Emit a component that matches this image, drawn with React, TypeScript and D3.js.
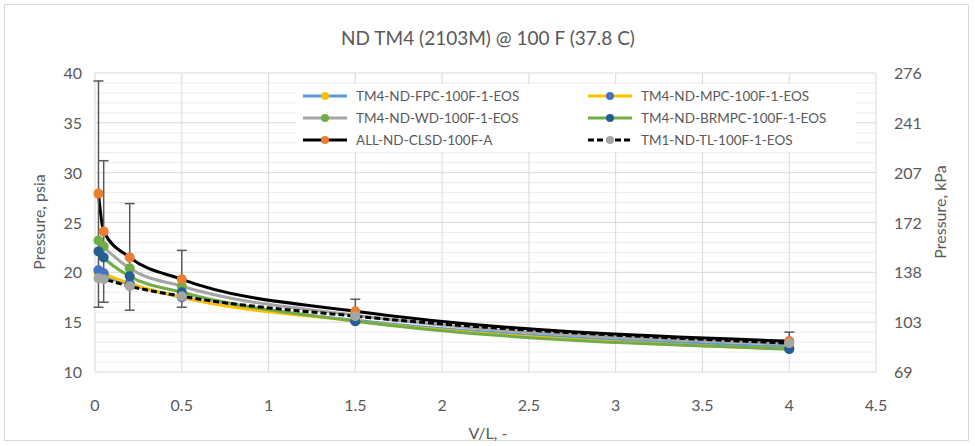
import React from "react";
import * as d3 from "d3";

const vl = [0.02, 0.05, 0.2, 0.5, 1.5, 4];
const fpc = [20.0, 19.7, 18.8, 17.5, 15.2, 12.5];
const mpc = [20.2, 19.9, 18.9, 17.5, 15.1, 12.3];
const wd = [23.2, 22.6, 20.4, 18.6, 15.7, 12.8];
const brmpc = [22.1, 21.5, 19.6, 18.0, 15.1, 12.3];
const clsd = [27.9, 24.1, 21.5, 19.3, 16.1, 13.1];
const tl = [19.4, 19.3, 18.6, 17.6, 15.6, 12.9];
const clsdHigh = [39.2, 31.2, 26.9, 22.2, 17.3, 14.0];
const clsdLow = [16.5, 17.0, 16.2, 16.5, 15.0, 12.3];

const xTicks = [0, 0.5, 1, 1.5, 2, 2.5, 3, 3.5, 4, 4.5];
const yTicks = [10, 15, 20, 25, 30, 35, 40];

const series = [
  { name: "TM4-ND-FPC-100F-1-EOS", values: fpc, line: "#5b9bd5", marker: "#ffc000", dash: null },
  { name: "TM4-ND-MPC-100F-1-EOS", values: mpc, line: "#ffc000", marker: "#4472c4", dash: null },
  { name: "TM4-ND-WD-100F-1-EOS", values: wd, line: "#a5a5a5", marker: "#70ad47", dash: null },
  { name: "TM4-ND-BRMPC-100F-1-EOS", values: brmpc, line: "#70ad47", marker: "#255e91", dash: null },
  { name: "ALL-ND-CLSD-100F-A", values: clsd, line: "#000000", marker: "#ed7d31", dash: null },
  { name: "TM1-ND-TL-100F-1-EOS", values: tl, line: "#000000", marker: "#a5a5a5", dash: "6,3" },
];

const W = 975;
const H = 446;
const font = "Lato, 'Open Sans', sans-serif";
const textColor = "#595959";

export default function App() {
  const x = d3.scaleLinear().domain([0, 4.5]).range([95, 876]);
  const y = d3.scaleLinear().domain([10, 40]).range([372, 73]);
  const minor = d3.range(10, 41, 1).filter((v) => v % 5 !== 0);

  const line = d3
    .line<number>()
    .x((d, i) => x(vl[i]))
    .y((d) => y(d))
    .curve(d3.curveMonotoneX);

  const legendRows = [96, 118, 140];
  const legendCols = [303, 588];

  return (
    <svg
      width={W}
      height={H}
      style={{ position: "absolute", left: 0, top: 0, background: "#fff" }}
      fontFamily={font}
    >
      <rect x={4.5} y={4.5} width={964} height={436} fill="#fff" stroke="#d9d9d9" />
      <text x={488} y={45} textAnchor="middle" fontSize={19} fill={textColor}>
        ND TM4 (2103M) @ 100 F (37.8 C)
      </text>

      {/* grid */}
      {minor.map((v) => (
        <line key={"m" + v} x1={x(0)} x2={x(4.5)} y1={y(v)} y2={y(v)} stroke="#ededed" />
      ))}
      {yTicks.map((v) => (
        <line key={"y" + v} x1={x(0)} x2={x(4.5)} y1={y(v)} y2={y(v)} stroke="#d9d9d9" />
      ))}
      {xTicks.map((v) => (
        <line key={"x" + v} x1={x(v)} x2={x(v)} y1={y(10)} y2={y(40)} stroke="#d9d9d9" />
      ))}

      {/* axis labels */}
      {yTicks.map((v) => (
        <text key={"yl" + v} x={82} y={y(v) + 6} textAnchor="end" fontSize={16} fill={textColor}>
          {v}
        </text>
      ))}
      {yTicks.map((v) => (
        <text key={"yr" + v} x={894} y={y(v) + 6} textAnchor="start" fontSize={16} fill={textColor}>
          {Math.round(v * 6.89476)}
        </text>
      ))}
      {xTicks.map((v) => (
        <text key={"xl" + v} x={x(v)} y={411} textAnchor="middle" fontSize={16} fill={textColor}>
          {v}
        </text>
      ))}
      <text x={488} y={439} textAnchor="middle" fontSize={16} fill={textColor}>
        V/L, -
      </text>
      <text transform="translate(45,222) rotate(-90)" textAnchor="middle" fontSize={16} fill={textColor}>
        Pressure, psia
      </text>
      <text transform="translate(946,212) rotate(-90)" textAnchor="middle" fontSize={16} fill={textColor}>
        Pressure, kPa
      </text>

      {/* lines */}
      {series.map((s) => (
        <path
          key={"p" + s.name}
          d={line(s.values) || ""}
          fill="none"
          stroke={s.line}
          strokeWidth={3}
          strokeDasharray={s.dash || undefined}
        />
      ))}

      {/* error bars */}
      {vl.map((v, i) => (
        <g key={"e" + i} stroke="#595959" strokeWidth={1.5}>
          <line x1={x(v)} x2={x(v)} y1={y(clsdHigh[i])} y2={y(clsdLow[i])} />
          <line x1={x(v) - 5} x2={x(v) + 5} y1={y(clsdHigh[i])} y2={y(clsdHigh[i])} />
          <line x1={x(v) - 5} x2={x(v) + 5} y1={y(clsdLow[i])} y2={y(clsdLow[i])} />
        </g>
      ))}

      {/* markers */}
      {series.map((s) =>
        s.values.map((d, i) => (
          <circle key={s.name + i} cx={x(vl[i])} cy={y(d)} r={5} fill={s.marker} />
        ))
      )}

      {/* legend */}
      <rect x={296} y={84} width={560} height={68} fill="#fff" />
      {series.map((s, i) => {
        const lx = legendCols[i % 2];
        const ly = legendRows[Math.floor(i / 2)];
        return (
          <g key={"lg" + s.name}>
            <line
              x1={lx}
              x2={lx + 44}
              y1={ly}
              y2={ly}
              stroke={s.line}
              strokeWidth={3}
              strokeDasharray={s.dash || undefined}
            />
            <circle cx={lx + 22} cy={ly} r={4} fill={s.marker} />
            <text x={lx + 53} y={ly + 5} fontSize={13.5} fill={textColor}>
              {s.name}
            </text>
          </g>
        );
      })}
    </svg>
  );
}
